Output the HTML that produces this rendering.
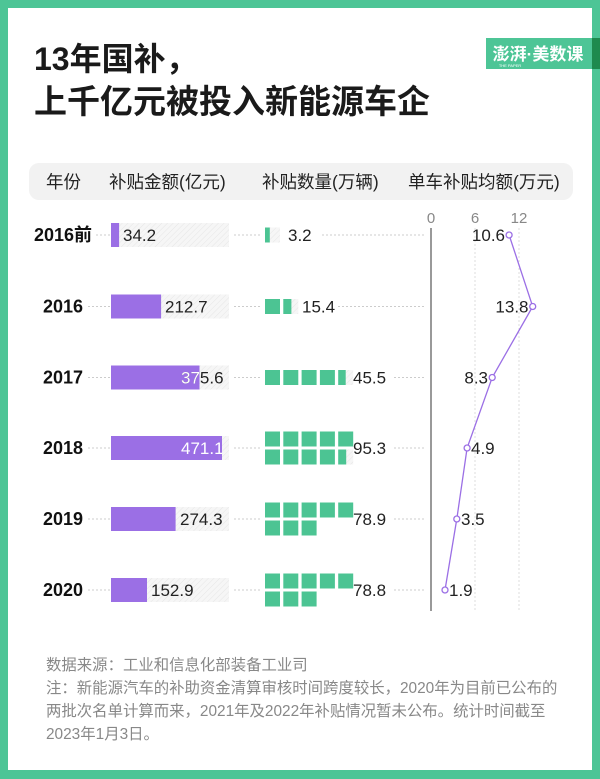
<!DOCTYPE html>
<html><head><meta charset="utf-8"><style>
body{margin:0;width:600px;height:779px;background:#4dc596;overflow:hidden}
svg{display:block}
text{font-family:"Liberation Sans","Noto Sans CJK SC",sans-serif}
</style></head><body>
<svg width="600" height="779" viewBox="0 0 600 779" xmlns="http://www.w3.org/2000/svg">
<defs>
<pattern id="h" width="4" height="4" patternUnits="userSpaceOnUse" patternTransform="rotate(45)">
<rect width="4" height="4" fill="#f6f6f6"/><line x1="0" y1="0" x2="0" y2="4" stroke="#e6e6e6" stroke-width="1"/></pattern>
<clipPath id="c3"><rect x="111" y="360" width="88.5" height="30"/></clipPath>
<clipPath id="c4"><rect x="111" y="430" width="111" height="30"/></clipPath>
</defs>
<rect x="0" y="0" width="600" height="779" fill="#4dc596"/>
<rect x="8" y="8" width="584" height="762" fill="#fff"/>
<rect x="592" y="38" width="8" height="31" fill="#1e8a4e"/>
<rect x="486" y="38" width="106" height="31" fill="#4dc596"/>
<text x="538" y="60" font-size="17" fill="#fff" text-anchor="middle" font-weight="bold">澎湃·美数课</text>
<text x="510" y="67" font-size="4" fill="#fff" text-anchor="middle">THE PAPER</text>
<text x="34" y="70" font-size="32" font-weight="bold" fill="#1a1a1a">13年国补，</text>
<text x="34" y="113" font-size="33" font-weight="bold" fill="#1a1a1a">上千亿元被投入新能源车企</text>
<rect x="29" y="163" width="544" height="37" rx="10" fill="#f2f2f2"/>
<g font-size="17.5" fill="#222">
<text x="46" y="188">年份</text>
<text x="109" y="188">补贴金额(亿元)</text>
<text x="262" y="188">补贴数量(万辆)</text>
<text x="408" y="188">单车补贴均额(万元)</text>
</g>
<g font-size="15" fill="#888" text-anchor="middle">
<text x="431" y="223">0</text><text x="475" y="223">6</text><text x="519" y="223">12</text>
</g>
<g stroke="#ddd" stroke-dasharray="2,2" stroke-width="1">
<line x1="475" y1="228" x2="475" y2="610"/><line x1="519" y1="228" x2="519" y2="610"/>
</g>
<line x1="431" y1="228" x2="431" y2="611" stroke="#999" stroke-width="2"/>

<g font-size="18" font-weight="bold" fill="#111" text-anchor="middle">
<text x="63" y="241">2016前</text>
<text x="63" y="312.5">2016</text>
<text x="63" y="383.5">2017</text>
<text x="63" y="454">2018</text>
<text x="63" y="525">2019</text>
<text x="63" y="596">2020</text>
</g>
<g stroke="#ccc" stroke-dasharray="2,2">
<line x1="96" y1="235" x2="110" y2="235"/><line x1="234" y1="235" x2="262" y2="235"/><line x1="322" y1="235" x2="425" y2="235"/>
<line x1="88" y1="306.5" x2="110" y2="306.5"/><line x1="234" y1="306.5" x2="262" y2="306.5"/><line x1="338" y1="306.5" x2="425" y2="306.5"/>
<line x1="88" y1="377.5" x2="110" y2="377.5"/><line x1="234" y1="377.5" x2="262" y2="377.5"/><line x1="394" y1="377.5" x2="425" y2="377.5"/>
<line x1="88" y1="448" x2="110" y2="448"/><line x1="234" y1="448" x2="262" y2="448"/><line x1="394" y1="448" x2="425" y2="448"/>
<line x1="88" y1="519" x2="110" y2="519"/><line x1="234" y1="519" x2="262" y2="519"/><line x1="394" y1="519" x2="425" y2="519"/>
<line x1="88" y1="590" x2="110" y2="590"/><line x1="234" y1="590" x2="262" y2="590"/><line x1="394" y1="590" x2="425" y2="590"/>
</g>
<g>
<rect x="111" y="223" width="118" height="24" fill="url(#h)"/><rect x="111" y="223" width="8.1" height="24" fill="#9b6fe5"/>
<rect x="111" y="294.5" width="118" height="24" fill="url(#h)"/><rect x="111" y="294.5" width="50.1" height="24" fill="#9b6fe5"/>
<rect x="111" y="365.5" width="118" height="24" fill="url(#h)"/><rect x="111" y="365.5" width="88.5" height="24" fill="#9b6fe5"/>
<rect x="111" y="436" width="118" height="24" fill="url(#h)"/><rect x="111" y="436" width="111" height="24" fill="#9b6fe5"/>
<rect x="111" y="507" width="118" height="24" fill="url(#h)"/><rect x="111" y="507" width="64.6" height="24" fill="#9b6fe5"/>
<rect x="111" y="578" width="118" height="24" fill="url(#h)"/><rect x="111" y="578" width="36" height="24" fill="#9b6fe5"/>
</g>
<g font-size="17" fill="#222">
<text x="123" y="241">34.2</text>
<text x="165" y="312.5">212.7</text>
<text x="181" y="383.5">375.6</text>
<text x="181" y="383.5" fill="#fff" clip-path="url(#c3)">375.6</text>
<text x="181" y="454" fill="#fff" clip-path="url(#c4)">471.1</text>
<text x="180" y="525">274.3</text>
<text x="151" y="596">152.9</text>
<text x="288" y="241">3.2</text>
<text x="302" y="312.5">15.4</text>
<text x="353" y="383.5">45.5</text>
<text x="353" y="454">95.3</text>
<text x="353" y="525">78.9</text>
<text x="353" y="596">78.8</text>
</g>
<g fill="#4cc493">
<rect x="265" y="227.5" width="15" height="15" fill="url(#h)"/><rect x="265" y="227.5" width="4.8" height="15"/>
<rect x="265" y="299" width="15" height="15"/><rect x="283.3" y="299" width="15" height="15" fill="url(#h)"/><rect x="283.3" y="299" width="8.1" height="15"/>
<rect x="265" y="370" width="15" height="15"/><rect x="283.3" y="370" width="15" height="15"/><rect x="301.6" y="370" width="15" height="15"/><rect x="319.9" y="370" width="15" height="15"/><rect x="338.2" y="370" width="15" height="15" fill="url(#h)"/><rect x="338.2" y="370" width="7.5" height="15"/>
<rect x="265" y="431.5" width="15" height="15"/><rect x="283.3" y="431.5" width="15" height="15"/><rect x="301.6" y="431.5" width="15" height="15"/><rect x="319.9" y="431.5" width="15" height="15"/><rect x="338.2" y="431.5" width="15" height="15"/>
<rect x="265" y="449.5" width="15" height="15"/><rect x="283.3" y="449.5" width="15" height="15"/><rect x="301.6" y="449.5" width="15" height="15"/><rect x="319.9" y="449.5" width="15" height="15"/><rect x="338.2" y="449.5" width="15" height="15" fill="url(#h)"/><rect x="338.2" y="449.5" width="8" height="15"/>
<rect x="265" y="502.5" width="15" height="15"/><rect x="283.3" y="502.5" width="15" height="15"/><rect x="301.6" y="502.5" width="15" height="15"/><rect x="319.9" y="502.5" width="15" height="15"/><rect x="338.2" y="502.5" width="15" height="15"/>
<rect x="265" y="520.5" width="15" height="15"/><rect x="283.3" y="520.5" width="15" height="15"/><rect x="301.6" y="520.5" width="15" height="15"/>
<rect x="265" y="573.5" width="15" height="15"/><rect x="283.3" y="573.5" width="15" height="15"/><rect x="301.6" y="573.5" width="15" height="15"/><rect x="319.9" y="573.5" width="15" height="15"/><rect x="338.2" y="573.5" width="15" height="15"/>
<rect x="265" y="591.5" width="15" height="15"/><rect x="283.3" y="591.5" width="15" height="15"/><rect x="301.6" y="591.5" width="15" height="15"/>
</g>
<polyline fill="none" stroke="#9b6fe5" stroke-width="1.3" points="509.1,235 532.7,306.5 492.2,377.5 467.1,448 456.8,519 445,590"/>
<g fill="#fff" stroke="#9b6fe5" stroke-width="1.3">
<circle cx="509.1" cy="235" r="3"/><circle cx="532.7" cy="306.5" r="3"/><circle cx="492.2" cy="377.5" r="3"/>
<circle cx="467.1" cy="448" r="3"/><circle cx="456.8" cy="519" r="3"/><circle cx="445" cy="590" r="3"/>
</g>
<g font-size="17" fill="#222">
<text x="505" y="241" text-anchor="end">10.6</text>
<text x="528.5" y="312.5" text-anchor="end">13.8</text>
<text x="488" y="383.5" text-anchor="end">8.3</text>
<text x="471" y="454">4.9</text>
<text x="461" y="525">3.5</text>
<text x="449" y="596">1.9</text>
</g>
<g font-size="15.4" fill="#888">
<text x="46" y="670">数据来源：工业和信息化部装备工业司</text>
<text x="46" y="693">注：新能源汽车的补助资金清算审核时间跨度较长，2020年为目前已公布的</text>
<text x="46" y="716">两批次名单计算而来，2021年及2022年补贴情况暂未公布。统计时间截至</text>
<text x="46" y="739">2023年1月3日。</text>
</g>
</svg>
</body></html>
